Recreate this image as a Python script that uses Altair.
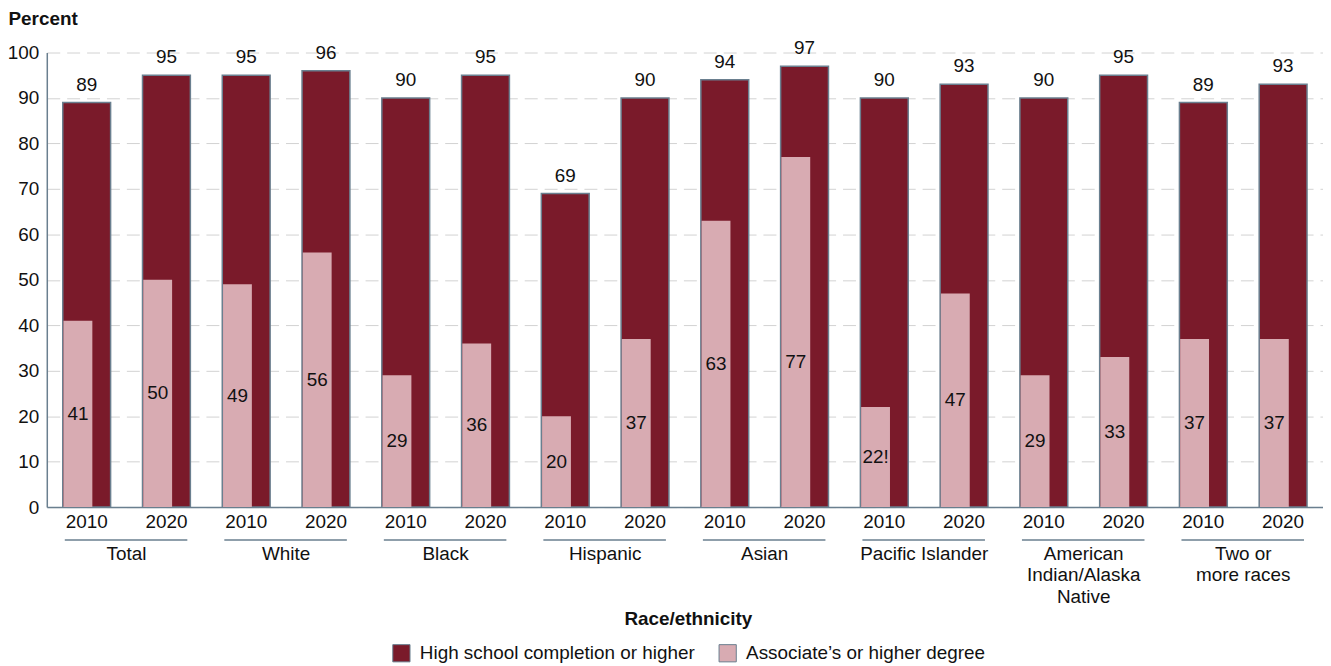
import altair as alt
import pandas as pd

groups = ["Total", "White", "Black", "Hispanic", "Asian", "Pacific Islander",
          "American\nIndian/Alaska\nNative", "Two or\nmore races"]
years = ["2010", "2020"]
hs_2010 = [89, 95, 90, 69, 94, 90, 90, 89]
hs_2020 = [95, 96, 95, 90, 97, 93, 95, 93]
assoc_2010 = [41, 49, 29, 20, 63, 22, 29, 37]
assoc_2020 = [50, 56, 36, 37, 77, 47, 33, 37]
assoc_labels_2010 = ["41", "49", "29", "20", "63", "22!", "29", "37"]
assoc_labels_2020 = ["50", "56", "36", "37", "77", "47", "33", "37"]

HS = "High school completion or higher"
AS = "Associate\u2019s or higher degree"
DARK = "#7a1a2a"
PINK = "#d8abb2"
EDGE = "#6a7f8f"

rows = []
for i, g in enumerate(groups):
    for y, hs, a, al in [("2010", hs_2010[i], assoc_2010[i], assoc_labels_2010[i]),
                         ("2020", hs_2020[i], assoc_2020[i], assoc_labels_2020[i])]:
        rows.append(dict(key=f"{i}|{y}", group=g, year=y, hs=hs, assoc=a,
                         assoc_label=al, hs_label=str(hs)))
df = pd.DataFrame(rows)
order = list(df["key"])

W, H = 1283, 457
STEP = W / 16
FS = 19

FONT = "Liberation Sans"

x_axis = alt.Axis(labelExpr="slice(datum.label, -4)", labelAngle=0, labelFontSize=FS,
                  labelColor="#111", labelPadding=6, ticks=False, domainColor=EDGE,
                  domainWidth=1.5, title="Race/ethnicity", titleFontSize=FS,
                  titleFontWeight="bold", titleColor="#111", titleY=112, titleX=W / 2 + 3,
                  titleBaseline="middle")
x_enc = alt.X("key:N", sort=order,
              scale=alt.Scale(paddingInner=0.4, paddingOuter=0.2), axis=x_axis)

y_axis = alt.Axis(values=list(range(0, 101, 10)), grid=True, gridDash=[13, 7],
                  gridColor="#d2d2d2", gridWidth=1, domainColor=EDGE, domainWidth=1.5,
                  ticks=False, labelFontSize=FS, labelColor="#111", labelPadding=8,
                  title="Percent", titleAngle=0, titleAlign="left", titleX=-39,
                  titleY=-34, titleBaseline="middle", titleFontSize=FS,
                  titleFontWeight="bold", titleColor="#111")
y_scale = alt.Scale(domain=[0, 100], nice=False)

color_scale = alt.Scale(domain=[HS, AS], range=[DARK, PINK])
legend = alt.Legend(orient="none", legendX=347, legendY=594, direction="horizontal",
                    title=None, symbolType="square", symbolSize=300,
                    symbolStrokeColor=EDGE, symbolStrokeWidth=1, symbolOpacity=1,
                    labelFontSize=FS, labelColor="#111", labelFont=FONT, labelLimit=0,
                    columnPadding=21, labelOffset=9)

base = alt.Chart(df)

dark = base.transform_calculate(measure=f"'{HS}'").mark_bar(
    stroke=EDGE, strokeWidth=1.5).encode(
    x=x_enc,
    y=alt.Y("hs:Q", scale=y_scale, axis=y_axis),
    color=alt.Color("measure:N", scale=color_scale, legend=legend),
)

pink = base.transform_calculate(measure="'Associate\u2019s or higher degree'").mark_bar(
    width=29, xOffset=-8.8).encode(
    x=x_enc,
    y=alt.Y("assoc:Q", scale=y_scale, axis=y_axis),
    color=alt.Color("measure:N", scale=color_scale, legend=legend),
)

dark_lab = base.mark_text(fontSize=FS, color="#111", baseline="alphabetic", dy=-12,
                          font=FONT).encode(
    x=x_enc,
    y=alt.Y("hs:Q", scale=y_scale, axis=y_axis),
    text="hs_label:N",
)

pink_lab = base.transform_calculate(ly="min(datum.assoc / 2, 32)").mark_text(
    fontSize=FS, color="#111", baseline="middle", xOffset=-8.8, font=FONT).encode(
    x=x_enc,
    y=alt.Y("ly:Q", scale=y_scale, axis=y_axis),
    text="assoc_label:N",
)

g2010 = base.transform_filter("datum.year == '2010'")

group_lab = g2010.mark_text(fontSize=FS, color="#111", baseline="top", lineBreak="\n",
                            lineHeight=21.5, xOffset=STEP / 2, font=FONT).encode(
    x=x_enc,
    y=alt.value(H + 38),
    text="group:N",
)

under = g2010.mark_rule(color=EDGE, strokeWidth=1.5, xOffset=-22,
                        x2Offset=STEP + 21).encode(
    x=x_enc,
    x2="key:N",
    y=alt.value(H + 33),
)

chart = alt.layer(dark, pink, dark_lab, pink_lab, group_lab, under).properties(
    width=W, height=H,
    autosize=alt.AutoSizeParams(type="none"),
    padding={"left": 39, "top": 43, "right": 0, "bottom": 165},
).configure(font=FONT).configure_view(stroke=None)

chart.save("out.html", embed_options={"renderer": "svg", "actions": False})
